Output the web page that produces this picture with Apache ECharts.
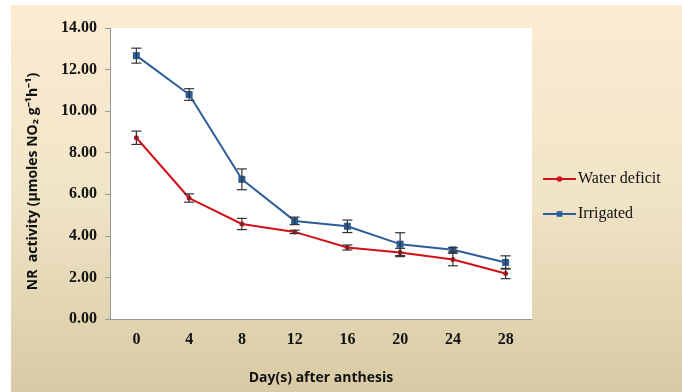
<!DOCTYPE html>
<html>
<head>
<meta charset="utf-8">
<script src="https://cdn.jsdelivr.net/npm/echarts@6/dist/echarts.min.js"></script>
<style>
  html, body { margin: 0; padding: 0; background: #fff; }
  #chart { position: absolute; left: 11px; top: 5px; width: 671px; height: 387px; }
</style>
</head>
<body>
<div id="chart"></div>
<script>
// 데이터
const days = ['0', '4', '8', '12', '16', '20', '24', '28'];
const waterDeficit = [8.72, 5.82, 4.57, 4.19, 3.44, 3.20, 2.86, 2.19];
const waterDeficitErr = [0.32, 0.20, 0.27, 0.08, 0.12, 0.20, 0.30, 0.25];
const irrigated = [12.67, 10.80, 6.72, 4.72, 4.46, 3.60, 3.33, 2.72];
const irrigatedErr = [0.36, 0.28, 0.50, 0.18, 0.30, 0.55, 0.10, 0.32];
const yTicks = [0, 2, 4, 6, 8, 10, 12, 14];

const RED = '#D0121B';
const BLUE = '#2D5D98';

const chart = echarts.init(document.getElementById('chart'));

// 에러바 데이터
const errData = (vals, errs) => vals.map((v, i) => [i, v - errs[i], v + errs[i]]);

const renderErr = (params, api) => {
    const lo = api.coord([api.value(0), api.value(1)]);
    const hi = api.coord([api.value(0), api.value(2)]);
    const w = 5;
    const style = { stroke: '#333', lineWidth: 1.2 };
    return {
        type: 'group',
        children: [
            { type: 'line', shape: { x1: hi[0], y1: hi[1], x2: lo[0], y2: lo[1] }, style },
            { type: 'line', shape: { x1: hi[0] - w, y1: hi[1], x2: hi[0] + w, y2: hi[1] }, style },
            { type: 'line', shape: { x1: lo[0] - w, y1: lo[1], x2: lo[0] + w, y2: lo[1] }, style }
        ]
    };
};

const option = {
    backgroundColor: new echarts.graphic.LinearGradient(0, 0, 0, 1, [
        { offset: 0, color: '#FCECD2' },
        { offset: 0.5, color: '#F0E4C6' },
        { offset: 1, color: '#D8CAA4' }
    ]),
    animation: false,
    grid: {
        left: 99,
        top: 23,
        right: 150,
        bottom: 73,
        show: true,
        backgroundColor: '#ffffff',
        borderWidth: 0
    },
    legend: {
        orient: 'vertical',
        left: 526,
        top: 161,
        itemWidth: 33,
        itemHeight: 7,
        itemGap: 19,
        data: ['Water deficit', 'Irrigated'],
        textStyle: {
            fontFamily: 'Liberation Serif',
            fontSize: 16,
            color: '#111',
            padding: [0, 0, 0, -3]
        }
    },
    xAxis: {
        type: 'category',
        data: days,
        boundaryGap: true,
        name: 'Day(s) after anthesis',
        nameLocation: 'middle',
        nameGap: 52,
        nameTextStyle: {
            fontFamily: 'Open Sans',
            fontWeight: 'bold',
            fontSize: 14,
            color: '#111'
        },
        axisLine: { lineStyle: { color: '#999', width: 1 } },
        axisTick: { length: 5, lineStyle: { color: '#999' } },
        axisLabel: {
            margin: 13,
            fontFamily: 'Liberation Serif',
            fontWeight: 'bold',
            fontSize: 16,
            color: '#111'
        }
    },
    yAxis: {
        type: 'value',
        min: 0,
        max: 14,
        interval: 2,
        name: 'NR  activity (µmoles NO₂ g⁻¹h⁻¹)',
        nameLocation: 'middle',
        nameGap: 70,
        nameTextStyle: {
            fontFamily: 'Open Sans',
            fontWeight: 'bold',
            fontSize: 14,
            color: '#111',
            padding: [0, 0, 0, -16]
        },
        splitLine: { show: false },
        axisLine: { show: true, lineStyle: { color: '#999', width: 1 } },
        axisTick: { show: true, length: 5, lineStyle: { color: '#999' } },
        axisLabel: {
            margin: 13,
            fontFamily: 'Liberation Serif',
            fontWeight: 'bold',
            fontSize: 16,
            color: '#111',
            formatter: v => yTicks.includes(v) ? v.toFixed(2) : ''
        }
    },
    series: [
        {
            name: 'Water deficit',
            type: 'line',
            data: waterDeficit,
            symbol: 'circle',
            symbolSize: 5,
            lineStyle: { color: RED, width: 2 },
            itemStyle: { color: RED },
            z: 3
        },
        {
            name: 'Irrigated',
            type: 'line',
            data: irrigated,
            symbol: 'rect',
            symbolSize: 7,
            lineStyle: { color: BLUE, width: 2 },
            itemStyle: { color: BLUE },
            z: 3
        },
        {
            name: 'wdErr',
            type: 'custom',
            renderItem: renderErr,
            data: errData(waterDeficit, waterDeficitErr),
            encode: { x: 0, y: [1, 2] },
            z: 4
        },
        {
            name: 'irErr',
            type: 'custom',
            renderItem: renderErr,
            data: errData(irrigated, irrigatedErr),
            encode: { x: 0, y: [1, 2] },
            z: 4
        }
    ]
};

chart.setOption(option);
</script>
</body>
</html>
